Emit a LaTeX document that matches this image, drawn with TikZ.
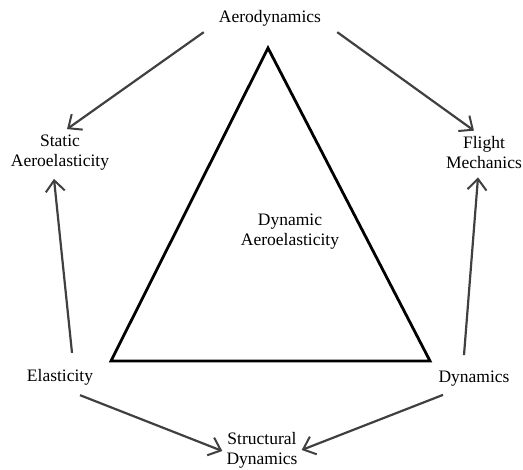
\documentclass[tikz,border=0pt]{standalone}
\usepackage{fontspec}
\setmainfont{Liberation Serif}
\usetikzlibrary{arrows.meta}
\begin{document}
\begin{tikzpicture}[x=1pt,y=-1pt,
  lbl/.style={align=center,inner sep=0pt,font=\rmfamily\fontsize{17.5}{20}\selectfont,text=black},
  arr/.style={draw=black!75,line width=2.2pt,-{Straight Barb[length=11pt,width=19pt,line width=2pt]}},
  tri/.style={draw=black,line width=2.8pt,line join=miter}]
\useasboundingbox (0,0) rectangle (523,470);
\node[lbl] (aero) at (270,18) {Aerodynamics};
\node[lbl] (static) at (60,153) {Static\\Aeroelasticity};
\node[lbl] (flight) at (484,153) {Flight\\Mechanics};
\node[lbl] (dynaero) at (290,232) {Dynamic\\Aeroelasticity};
\node[lbl] (elast) at (60,377) {Elasticity};
\node[lbl] (dyn) at (474,379) {Dynamics};
\node[lbl] (struct) at (262,450) {Structural\\Dynamics};
\coordinate (apex) at (268,48);
\coordinate (bl) at (111,361);
\coordinate (br) at (430,361);
\draw[tri] (apex) -- (bl) -- (br) -- cycle;
\draw[arr] ([shift={(-15,6)}]aero.south west) -- ([shift={(7,-6)}]static.north);
\draw[arr] ([shift={(16,6)}]aero.south east) -- ([shift={(-10,-6)}]flight.north);
\draw[arr] ([shift={(12,-16)}]elast.north) -- ([shift={(-6,8)}]static.south);
\draw[arr] ([shift={(-10,-16)}]dyn.north) -- ([shift={(-6,8)}]flight.south);
\draw[arr] ([shift={(20,10)}]elast.south) -- ([shift={(-4,1)}]struct.west);
\draw[arr] ([shift={(-31,8)}]dyn.south) -- ([shift={(4,0)}]struct.east);
\end{tikzpicture}
\end{document}
